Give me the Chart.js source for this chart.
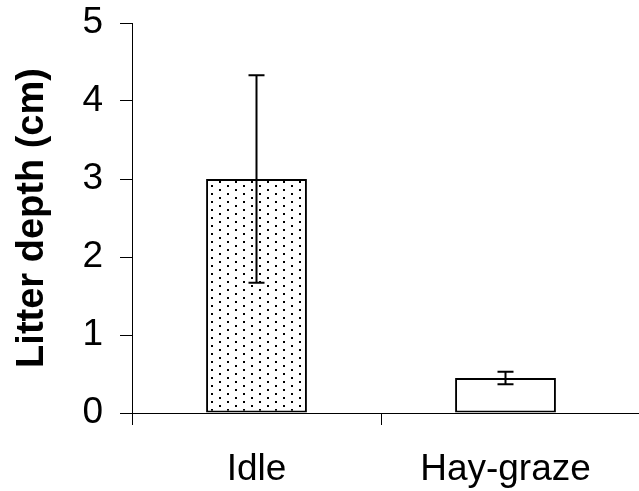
<!DOCTYPE html>
<html lang="en">

<head>
    <meta charset="UTF-8">
    <title>Litter depth</title>
    <script src="https://cdn.jsdelivr.net/npm/chart.js@4.4.1/dist/chart.umd.min.js"></script>
    <style>
        body {
            margin: 0;
            background: #fff;
        }
    </style>
</head>

<body>
    <canvas id="myChart" width="639" height="491"></canvas>
    <script>
        const categories = ['Idle', 'Hay-graze'];
        const meanDepth = [3.0, 0.45];
        const errDepth = [1.33, 0.08];
        const yTicks = [0, 1, 2, 3, 4, 5];

        // sparse staggered dots for the first bar
        function dotPattern() {
            const tile = document.createElement('canvas');
            tile.width = 16;
            tile.height = 8;
            const t = tile.getContext('2d');
            t.fillStyle = '#fff';
            t.fillRect(0, 0, 16, 8);
            t.fillStyle = '#000';
            t.fillRect(3, 1, 2, 2);
            t.fillRect(11, 5, 2, 2);
            return t.createPattern(tile, 'repeat');
        }

        const ctx = document.getElementById('myChart').getContext('2d');

        // error bars and the x axis line running to the edge
        const extras = {
            id: 'extras',
            afterDatasetsDraw(chart) {
                const c = chart.ctx;
                const y = chart.scales.y;
                const area = chart.chartArea;
                c.save();
                c.strokeStyle = '#000';
                c.lineWidth = 1;
                c.beginPath();
                c.moveTo(area.right, area.bottom + 0.5);
                c.lineTo(chart.width, area.bottom + 0.5);
                c.stroke();

                c.lineWidth = 2;
                chart.getDatasetMeta(0).data.forEach(function (bar, i) {
                    const top = y.getPixelForValue(meanDepth[i] + errDepth[i]);
                    const bot = y.getPixelForValue(meanDepth[i] - errDepth[i]);
                    c.beginPath();
                    c.moveTo(bar.x, top);
                    c.lineTo(bar.x, bot);
                    c.moveTo(bar.x - 8, top);
                    c.lineTo(bar.x + 8, top);
                    c.moveTo(bar.x - 8, bot);
                    c.lineTo(bar.x + 8, bot);
                    c.stroke();
                });
                c.restore();
            }
        };

        Chart.defaults.font.family = '"Liberation Sans", Arial, sans-serif';
        Chart.defaults.color = '#000';

        const myChart = new Chart(ctx, {
            type: 'bar',
            data: {
                labels: categories,
                datasets: [{
                    data: meanDepth,
                    backgroundColor: [dotPattern(), '#fff'],
                    borderColor: '#000',
                    borderWidth: 2,
                    borderSkipped: false,
                    categoryPercentage: 1,
                    barPercentage: 0.405
                }]
            },
            options: {
                responsive: false,
                animation: false,
                layout: {
                    padding: { top: 23, right: 9, left: 0, bottom: 0 }
                },
                plugins: {
                    legend: { display: false },
                    tooltip: { enabled: false }
                },
                scales: {
                    x: {
                        grid: {
                            drawOnChartArea: false,
                            offset: true,
                            tickLength: 12,
                            color: function (c) {
                                return c.index < 2 ? '#000' : 'rgba(0,0,0,0)';
                            }
                        },
                        border: { color: '#000', width: 1 },
                        ticks: {
                            font: { size: 37 },
                            padding: 23
                        },
                        afterFit: function (s) {
                            s.height = 78;
                        }
                    },
                    y: {
                        min: 0,
                        max: 5,
                        afterBuildTicks: function (s) {
                            s.ticks = yTicks.map(function (v) { return { value: v }; });
                        },
                        grid: {
                            drawOnChartArea: false,
                            tickLength: 12,
                            color: '#000'
                        },
                        border: { color: '#000', width: 1 },
                        ticks: {
                            font: { size: 37 },
                            padding: 17
                        },
                        title: {
                            display: true,
                            text: 'Litter depth (cm)',
                            font: { size: 38, weight: 'bold' },
                            padding: { top: 10, bottom: 0 }
                        },
                        afterFit: function (s) {
                            s.width = 132;
                            s.paddingTop = 0;
                            s.paddingBottom = 0;
                        }
                    }
                }
            },
            plugins: [extras]
        });
    </script>
</body>

</html>
